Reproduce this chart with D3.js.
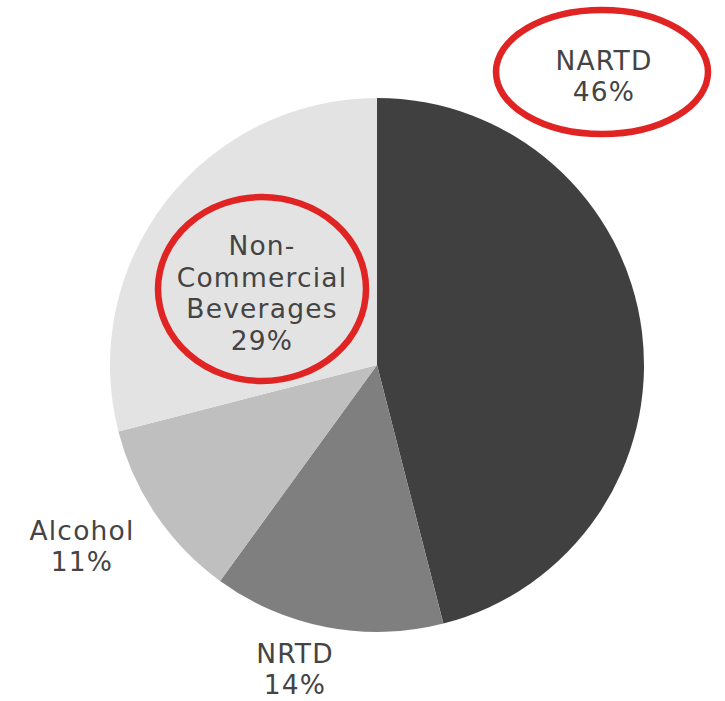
<!DOCTYPE html>
<html>
<head>
<meta charset="utf-8">
<script src="https://cdn.jsdelivr.net/npm/d3@7"></script>
<style>
  body { margin: 0; background: #fff; }
  text { font-family: "DejaVu Sans", "Noto Sans", sans-serif; fill: #444; }
</style>
</head>
<body>
<script>
// slice data, clockwise from 12 o'clock
const categories = ['NARTD', 'NRTD', 'Alcohol', 'Non-Commercial Beverages'];
const shares = [46, 14, 11, 29];
const colors = ['#404040', '#7f7f7f', '#bfbfbf', '#e3e3e3'];
// label lines per slice
const labelLines = [['NARTD', '46%'], ['NRTD', '14%'], ['Alcohol', '11%'], ['Non-', 'Commercial', 'Beverages', '29%']];

const w = 725, h = 701;
const cx = 377, cy = 365, r = 267;

const svg = d3.select('body').append('svg')
    .attr('width', w)
    .attr('height', h);

const pie = d3.pie().sort(null).value(d => d)(shares);
const arc = d3.arc().innerRadius(0).outerRadius(r);

const g = svg.append('g').attr('transform', `translate(${cx},${cy})`);

g.selectAll('path')
    .data(pie)
    .enter()
    .append('path')
    .attr('d', arc)
    .attr('fill', (d, i) => colors[i]);

// label anchor points (centre of the text block) and line spacing
const labelPos = [[604, 76], [295, 669], [82, 546], [262, 293]];
const lineH = 31.5;

labelLines.forEach((lines, i) => {
    const [lx, ly] = labelPos[i];
    const t = svg.append('text')
        .attr('text-anchor', 'middle')
        .attr('font-size', 26.5)
        .attr('letter-spacing', 1.2);
    lines.forEach((s, j) => {
        t.append('tspan')
            .attr('x', lx)
            .attr('y', ly + (j - (lines.length - 1) / 2) * lineH + 9.5)
            .text(s);
    });
});

// red highlight ellipses
const highlights = [
    { cx: 602, cy: 72, rx: 106, ry: 62 },
    { cx: 262, cy: 289, rx: 104, ry: 92 }
];
svg.selectAll('ellipse')
    .data(highlights)
    .enter()
    .append('ellipse')
    .attr('cx', d => d.cx)
    .attr('cy', d => d.cy)
    .attr('rx', d => d.rx)
    .attr('ry', d => d.ry)
    .attr('fill', 'none')
    .attr('stroke', '#e02424')
    .attr('stroke-width', 6.5);
</script>
</body>
</html>
